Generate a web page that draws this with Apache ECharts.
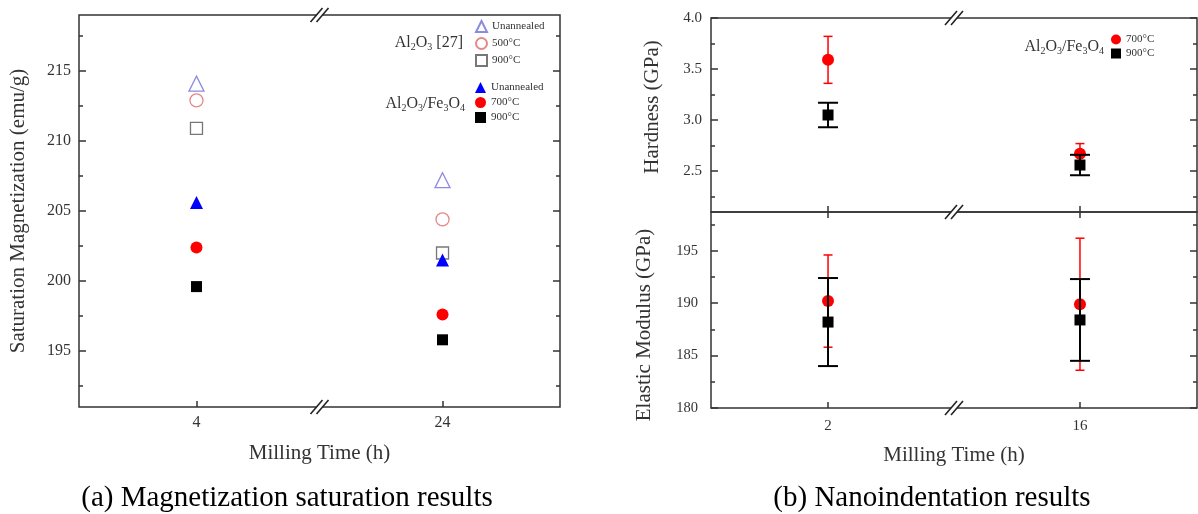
<!DOCTYPE html>
<html>
<head>
    <meta charset="utf-8" />
    <title>Milling time results</title>
    <script src="https://cdn.jsdelivr.net/npm/echarts@6/dist/echarts.min.js"></script>
    <style>
        body { margin: 0; background: #fff; }
        #main { width: 1198px; height: 514px; }
    </style>
</head>
<body>
<div id="main"></div>
<script type="text/javascript">
    // (a) saturation magnetization, emu/g
    var magTimes = ['4', '24'];
    var refUnannealed = [214.1, 207.2];
    var ref500 = [212.9, 204.4];
    var ref900 = [210.9, 202.0];
    var compUnannealed = [205.6, 201.5];
    var comp700 = [202.4, 197.6];
    var comp900 = [199.6, 195.8];
    var magTicks = [195, 200, 205, 210, 215];
    var magMinor = [192.5, 197.5, 202.5, 207.5, 212.5, 217.5];

    // (b) nanoindentation, GPa
    var nanoTimes = ['2', '16'];
    var hard700 = [3.59, 2.67];
    var hard700Err = [0.23, 0.10];
    var hard900 = [3.05, 2.56];
    var hard900Err = [0.12, 0.10];
    var mod700 = [190.2, 189.9];
    var mod700Err = [4.4, 6.3];
    var mod900 = [188.2, 188.4];
    var mod900Err = [4.2, 3.9];
    var hardTicks = [2.5, 3.0, 3.5, 4.0];
    var hardMinor = [2.25, 2.75, 3.25, 3.75];
    var modTicks = [180, 185, 190, 195];
    var modMinor = [182.5, 187.5, 192.5, 197.5];

    var F = '"Liberation Serif", "Times New Roman", serif';
    var INK = '#333';

    // grids in pixels, x ranges of the value axes
    var gA = { left: 79, top: 15, width: 481, height: 392 };
    var gH = { left: 711, top: 18, width: 486, height: 194 };
    var gE = { left: 711, top: 212, width: 486, height: 196 };
    var xA = [0.045, 3.955];
    var xB = [0.071, 3.929];

    // categories sit at positions 1 and 3 on a value axis, the break is at 2
    function pos(i) { return 2 * i + 1; }
    function pts(vals) {
        return vals.map(function (v, i) { return [pos(i), v]; });
    }
    function errs(vals, e) {
        return vals.map(function (v, i) { return [pos(i), v - e[i], v + e[i]]; });
    }

    function xAxis(grid, cats, range, opts) {
        var a = {
            type: 'value', gridIndex: grid, min: range[0], max: range[1],
            position: opts.position || 'bottom',
            axisLine: { show: false },
            splitLine: { show: false },
            axisTick: { show: true, inside: true, length: 6, customValues: [1, 3],
                lineStyle: { color: INK, width: 1.5 } },
            axisLabel: { show: !!opts.labels, customValues: [1, 3], margin: opts.margin || 9,
                fontFamily: F, fontSize: opts.fs || 15, color: INK,
                formatter: function (v) { return cats[(v - 1) / 2]; } }
        };
        if (opts.name) {
            a.name = opts.name;
            a.nameLocation = 'middle';
            a.nameGap = opts.nameGap;
            a.nameTextStyle = { fontFamily: F, fontSize: 21, color: INK };
        }
        return a;
    }

    function yAxes(grid, min, max, major, minor, digits, margin, fs) {
        var base = { type: 'value', gridIndex: grid, min: min, max: max,
            axisLine: { show: false }, splitLine: { show: false } };
        function ax(position, vals, len, labels) {
            return Object.assign({}, base, {
                position: position,
                axisTick: { show: true, inside: true, length: len, customValues: vals,
                    lineStyle: { color: INK, width: 1.5 } },
                axisLabel: { show: labels, customValues: vals, margin: margin,
                    fontFamily: F, fontSize: fs, color: INK,
                    formatter: function (v) { return v.toFixed(digits); } }
            });
        }
        return [ax('left', major, 7, true), ax('left', minor, 4, false),
                ax('right', major, 7, false), ax('right', minor, 4, false)];
    }

    function scatter(name, x, y, data, symbol, size, color, open) {
        return {
            type: 'scatter', name: name, xAxisIndex: x, yAxisIndex: y,
            data: data, symbol: symbol, symbolSize: size, z: open ? 4 : 6,
            itemStyle: open
                ? { color: 'rgba(255,255,255,0)', borderColor: color, borderWidth: 1.3 }
                : { color: color, opacity: 1 }
        };
    }

    function errorBar(x, y, data, color, width, cap, z) {
        return {
            type: 'custom', name: 'err', xAxisIndex: x, yAxisIndex: y, z: z,
            data: data, silent: true,
            renderItem: function (params, api) {
                var lo = api.coord([api.value(0), api.value(1)]);
                var hi = api.coord([api.value(0), api.value(2)]);
                var st = { stroke: color, lineWidth: width };
                return { type: 'group', children: [
                    { type: 'line', shape: { x1: lo[0], y1: lo[1], x2: hi[0], y2: hi[1] }, style: st },
                    { type: 'line', shape: { x1: lo[0] - cap, y1: lo[1], x2: lo[0] + cap, y2: lo[1] }, style: st },
                    { type: 'line', shape: { x1: hi[0] - cap, y1: hi[1], x2: hi[0] + cap, y2: hi[1] }, style: st }
                ] };
            }
        };
    }

    function subText(parts) {
        return parts.map(function (p, i) { return (i % 2 ? '{s|' : '{m|') + p + '}'; }).join('');
    }
    var rich = {
        m: { fontFamily: F, fontSize: 16, fill: INK, lineHeight: 18 },
        s: { fontFamily: F, fontSize: 10, fill: INK, lineHeight: 8, verticalAlign: 'bottom' }
    };
    function label(x, y, parts) {
        return { type: 'text', z: 100, style: { x: x, y: y, align: 'right', verticalAlign: 'middle',
            text: subText(parts), rich: rich } };
    }
    function yTitle(x, y, text) {
        return { type: 'text', z: 100, x: x, y: y, rotation: Math.PI / 2,
            style: { x: 0, y: 0, align: 'center', verticalAlign: 'middle',
                text: text, fontFamily: F, fontSize: 21, fill: INK } };
    }
    function caption(x, text) {
        return { type: 'text', z: 100, style: { x: x, y: 498, align: 'center', verticalAlign: 'middle',
            text: text, fontFamily: F, fontSize: 29, fill: '#000' } };
    }

    // "//" axis-break marks at the middle of each panel
    function midX(g, r) { return g.left + g.width * (2 - r[0]) / (r[1] - r[0]); }
    function breakMark(cx, cy) {
        var st = { stroke: '#222', lineWidth: 1.6 };
        return { type: 'group', z: 100, children: [
            { type: 'rect', shape: { x: cx - 3, y: cy - 2, width: 6, height: 4 }, style: { fill: '#fff' } },
            { type: 'line', shape: { x1: cx - 9, y1: cy + 7, x2: cx + 3, y2: cy - 7 }, style: st },
            { type: 'line', shape: { x1: cx - 3, y1: cy + 7, x2: cx + 9, y2: cy - 7 }, style: st }
        ] };
    }

    var legendText = { fontFamily: F, fontSize: 11, color: INK };
    function legendName(n) { return n.split('|')[1]; }

    var myChart = echarts.init(document.getElementById('main'));

    var option = {
        animation: false,
        backgroundColor: '#fff',
        grid: [gA, gH, gE].map(function (g) {
            return Object.assign({ show: true, borderColor: INK, borderWidth: 1.5 }, g);
        }),
        xAxis: [
            xAxis(0, magTimes, xA, { labels: true, margin: 8, fs: 16, name: 'Milling Time (h)', nameGap: 36 }),
            xAxis(1, nanoTimes, xB, {}),
            xAxis(2, nanoTimes, xB, { labels: true, margin: 11, name: 'Milling Time (h)', nameGap: 37 }),
            xAxis(2, nanoTimes, xB, { position: 'top' })
        ],
        yAxis: [].concat(
            yAxes(0, 191, 219, magTicks, magMinor, 0, 8, 16),
            yAxes(1, 2.1, 4.0, hardTicks, hardMinor, 1, 9, 15),
            yAxes(2, 180, 198.7, modTicks, modMinor, 0, 13, 14.5)
        ),
        legend: [
            { orient: 'vertical', left: 470, top: 15, itemWidth: 11, itemHeight: 11, itemGap: 4,
              textStyle: legendText, formatter: legendName, selectedMode: false,
              data: ['ref|Unannealed', 'ref|500°C', 'ref|900°C'] },
            { orient: 'vertical', left: 470, top: 77, itemWidth: 11, itemHeight: 11, itemGap: 4,
              textStyle: legendText, formatter: legendName, selectedMode: false,
              data: ['comp|Unannealed', 'comp|700°C', 'comp|900°C'] },
            { orient: 'vertical', left: 1106, top: 29, itemWidth: 10, itemHeight: 10, itemGap: 3,
              textStyle: legendText, formatter: legendName, selectedMode: false,
              data: ['fe|700°C', 'fe|900°C'] }
        ],
        series: [
            scatter('ref|Unannealed', 0, 0, pts(refUnannealed), 'triangle', 15, '#6e6ed8', true),
            scatter('ref|500°C', 0, 0, pts(ref500), 'circle', 13, '#e06a6a', true),
            scatter('ref|900°C', 0, 0, pts(ref900), 'rect', 12, '#555', true),
            scatter('comp|Unannealed', 0, 0, pts(compUnannealed), 'triangle', 13, '#0000ff', false),
            scatter('comp|700°C', 0, 0, pts(comp700), 'circle', 12, '#ff0000', false),
            scatter('comp|900°C', 0, 0, pts(comp900), 'rect', 11, '#000', false),

            errorBar(1, 4, errs(hard700, hard700Err), '#ff0000', 1.5, 4.5, 2),
            scatter('fe|700°C', 1, 4, pts(hard700), 'circle', 12, '#ff0000', false),
            errorBar(1, 4, errs(hard900, hard900Err), '#000', 2, 10, 7),
            scatter('fe|900°C', 1, 4, pts(hard900), 'rect', 11, '#000', false),

            errorBar(2, 8, errs(mod700, mod700Err), '#ff0000', 1.5, 4.5, 2),
            scatter('fe|700°C', 2, 8, pts(mod700), 'circle', 12, '#ff0000', false),
            errorBar(2, 8, errs(mod900, mod900Err), '#000', 2, 10, 7),
            scatter('fe|900°C', 2, 8, pts(mod900), 'rect', 11, '#000', false)
        ],
        graphic: [
            label(463, 43, ['Al', '2', 'O', '3', ' [27]']),
            label(465, 104, ['Al', '2', 'O', '3', '/Fe', '3', 'O', '4']),
            label(1104, 47, ['Al', '2', 'O', '3', '/Fe', '3', 'O', '4']),
            yTitle(18, 211, 'Saturation Magnetization (emu/g)'),
            yTitle(652, 107, 'Hardness (GPa)'),
            yTitle(644, 325, 'Elastic Modulus (GPa)'),
            caption(287, '(a) Magnetization saturation results'),
            caption(932, '(b) Nanoindentation results'),
            breakMark(midX(gA, xA), gA.top),
            breakMark(midX(gA, xA), gA.top + gA.height),
            breakMark(midX(gH, xB), gH.top),
            breakMark(midX(gH, xB), gH.top + gH.height),
            breakMark(midX(gE, xB), gE.top + gE.height)
        ]
    };

    myChart.setOption(option);
</script>
</body>
</html>
